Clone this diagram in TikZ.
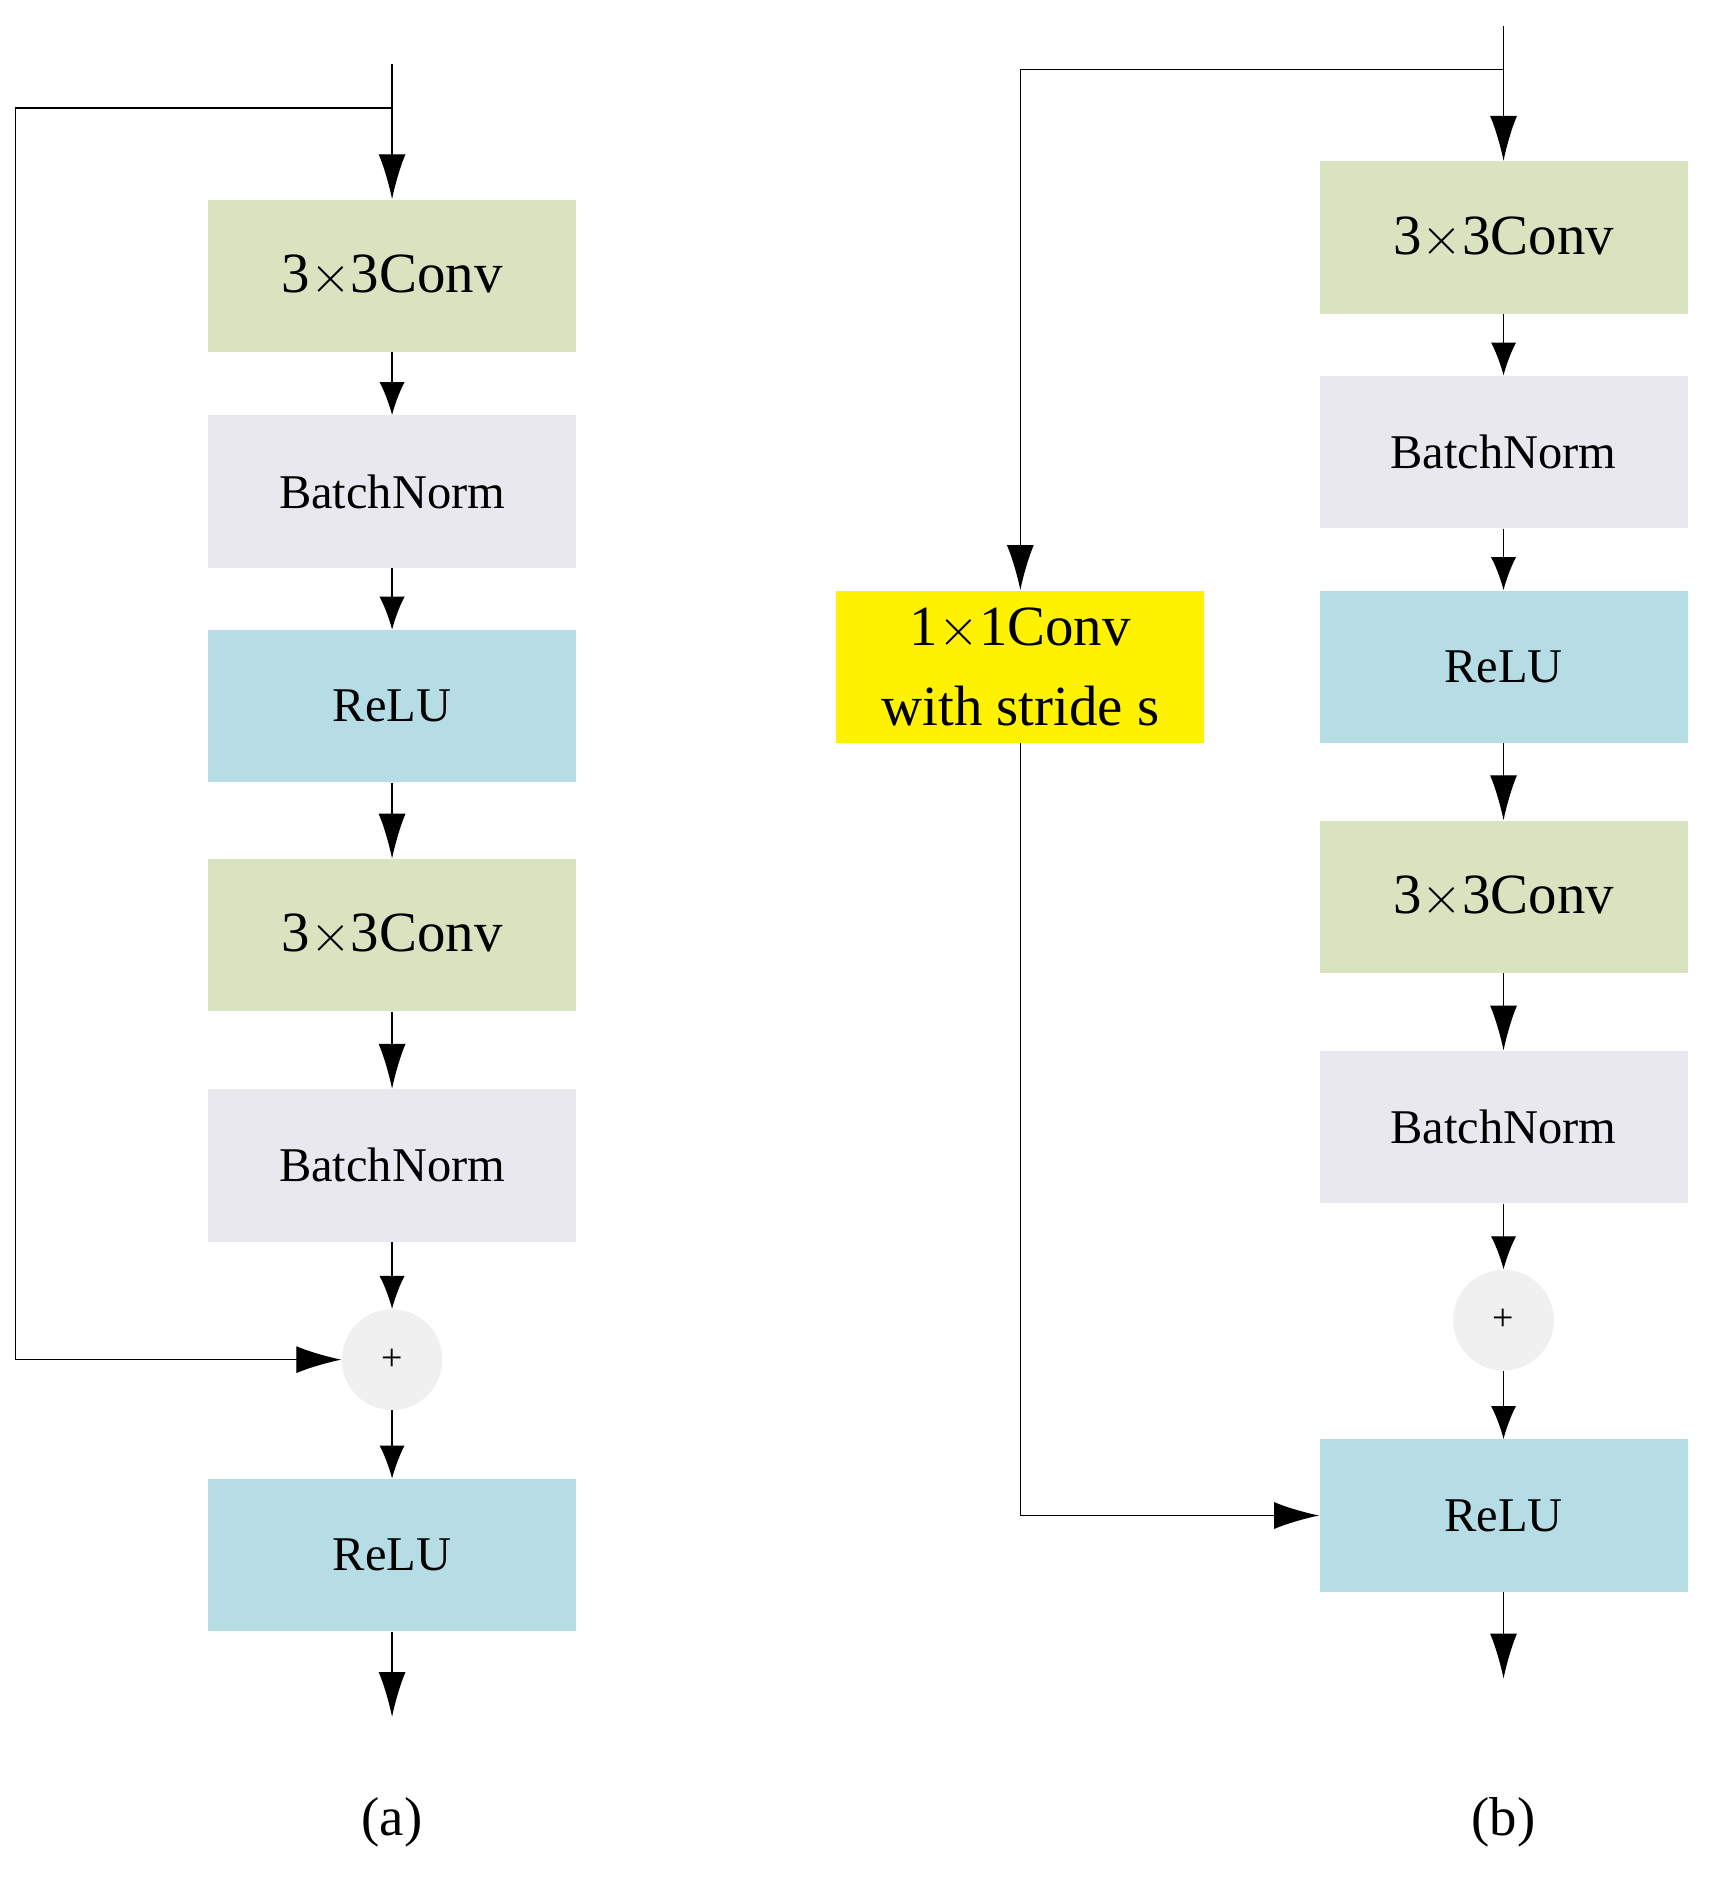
\documentclass[tikz,border=0pt]{standalone}
\usepackage{fontspec}
\setmainfont{Liberation Serif}
\usetikzlibrary{arrows.meta}
\definecolor{cg}{HTML}{D9E3C0}
\definecolor{cb}{HTML}{EAE8EF}
\definecolor{cr}{HTML}{B6DDE6}
\definecolor{cc}{HTML}{F0F0F0}
\begin{document}
\begin{tikzpicture}[x=0.02cm,y=-0.02cm,
  box/.style={minimum width=6.14cm,minimum height=2.54cm,inner sep=0pt,anchor=center},
  conv/.style={box,fill=cg,font=\fontsize{27}{30}\selectfont},
  bn/.style={box,fill=cb,font=\fontsize{23}{26}\selectfont},
  relu/.style={box,fill=cr,font=\fontsize{23}{26}\selectfont},
  plus/.style={circle,fill=cc,minimum size=1.68cm,inner sep=0pt,font=\fontsize{18}{20}\selectfont},
  a/.style={-{Latex[length=0.55cm,width=0.42cm]},line width=0.6pt},
  A/.style={-{Latex[length=0.75cm,width=0.45cm]},line width=0.6pt},
  ln/.style={line width=0.6pt}]
\useasboundingbox (0,0) rectangle (1430,1568);
% left
\node[conv] (c1) at (327,230) {3$\times$3Conv};
\node[bn] (b1) at (327,410) {BatchNorm};
\node[relu] (r1) at (327,589) {ReLU};
\node[conv] (c2) at (327,780) {3$\times$3Conv};
\node[bn] (b2) at (327,972) {BatchNorm};
\node[plus] (p1) at (327,1134) {+};
\node[relu] (r2) at (327,1297) {ReLU};
\coordinate (in1) at (327,53);
\coordinate (s1) at (327,90);
\coordinate (s1a) at (13,90);
\coordinate (s1b) at (13,1134);
\coordinate (o1) at (327,1432);
\draw[A] (in1) -- (c1);
\draw[ln] (s1) -- (s1a) -- (s1b);
\draw[A] (s1b) -- (p1);
\draw[a] (c1) -- (b1);
\draw[a] (b1) -- (r1);
\draw[A] (r1) -- (c2);
\draw[A] (c2) -- (b2);
\draw[a] (b2) -- (p1);
\draw[a] (p1) -- (r2);
\draw[A] (r2) -- (o1);
\node[font=\fontsize{26}{30}\selectfont] (la) at (327,1520) {(a)};
% right
\node[conv] (c3) at (1254,198) {3$\times$3Conv};
\node[bn] (b3) at (1254,377) {BatchNorm};
\node[relu] (r3) at (1254,556) {ReLU};
\node[conv] (c4) at (1254,748) {3$\times$3Conv};
\node[bn] (b4) at (1254,940) {BatchNorm};
\node[plus] (p2) at (1254,1101) {+};
\node[relu] (r4) at (1254,1264) {ReLU};
\node[box,fill=yellow,align=center,font=\fontsize{27}{38}\selectfont] (y) at (851,556) {1$\times$1Conv\\with stride s};
\coordinate (in2) at (1254,22);
\coordinate (s2) at (1254,58);
\coordinate (s2a) at (851,58);
\coordinate (s2b) at (851,1264);
\coordinate (o2) at (1254,1400);
\draw[A] (in2) -- (c3);
\draw[ln] (s2) -- (s2a);
\draw[A] (s2a) -- (y);
\draw[ln] (y) -- (s2b);
\draw[A] (s2b) -- (r4);
\draw[a] (c3) -- (b3);
\draw[a] (b3) -- (r3);
\draw[A] (r3) -- (c4);
\draw[A] (c4) -- (b4);
\draw[a] (b4) -- (p2);
\draw[a] (p2) -- (r4);
\draw[A] (r4) -- (o2);
\node[font=\fontsize{26}{30}\selectfont] (lb) at (1254,1520) {(b)};
\end{tikzpicture}
\end{document}
